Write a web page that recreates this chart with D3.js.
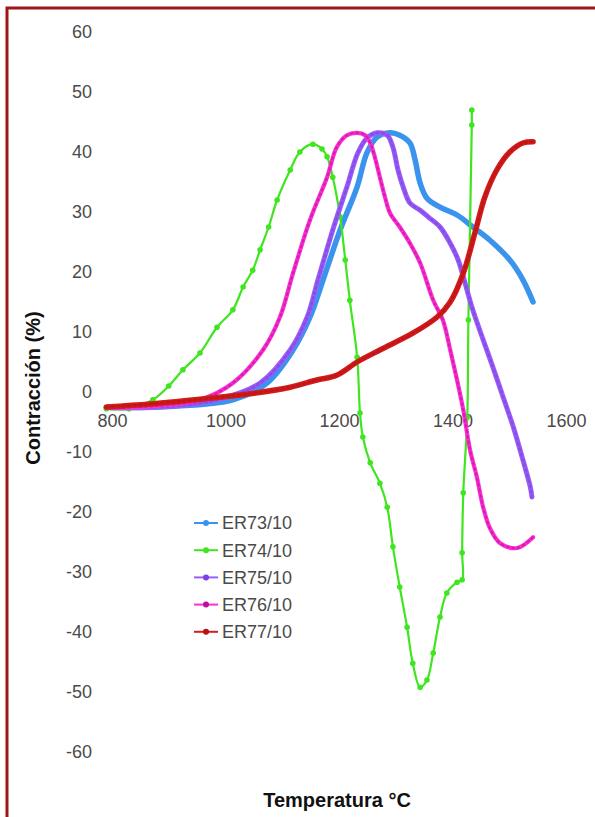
<!DOCTYPE html>
<html>
<head>
<meta charset="utf-8">
<script src="https://cdn.jsdelivr.net/npm/d3@7"></script>
<style>
  body { margin: 0; background: #fff; }
  svg { display: block; font-family: "Liberation Sans", Arial, sans-serif; }
</style>
</head>
<body>
<svg id="chart" width="595" height="817"></svg>
<script>
// series names, in legend order
const seriesNames = ["ER73/10", "ER74/10", "ER75/10", "ER76/10", "ER77/10"];

// [temperature °C, contraction %]
const er73 = [[790,-2.6],[900,-2.4],[1013,-1.3],[1073,1.5],[1119,7],[1149,12.5],[1172,18.7],[1202,27],[1232,34.2],[1249,39.8],[1267,42.5],[1290,43.2],[1307,42.8],[1325,41.5],[1334,38.7],[1343,34.8],[1355,32.3],[1378,30.8],[1408,29.5],[1436,27.5],[1466,25.3],[1501,22],[1524,18.7],[1542,15]];
const er74 = [[790,-2.8],[830,-2.8],[872,-1.3],[900,1],[925,3.7],[955,6.5],[985,10.8],[1013,13.7],[1031,17.5],[1048,20.3],[1061,23.7],[1076,27.5],[1091,32],[1114,37],[1131,40],[1154,41.3],[1170,40.5],[1179,39.2],[1189,35.8],[1202,29.2],[1211,22],[1219,15.3],[1232,5.8],[1237,-3.5],[1242,-7.5],[1255,-11.8],[1272,-15.2],[1285,-19.2],[1295,-25.8],[1307,-32.5],[1320,-39.2],[1330,-45.2],[1343,-49.2],[1355,-48],[1366,-43.5],[1378,-37.5],[1390,-33.5],[1408,-31.7],[1417,-31.3],[1417,-26.8],[1419,-16.8],[1426,-4.2],[1428,12],[1434,44.5],[1434,47]];
const er75 = [[790,-2.6],[900,-2.4],[985,-1.3],[1061,1.5],[1114,7],[1144,12.5],[1163,18.7],[1189,27],[1214,34.2],[1233,39.8],[1249,42.3],[1267,43.2],[1285,42.8],[1295,40.8],[1304,37],[1313,34.2],[1325,31.5],[1343,30.3],[1357,29.2],[1378,27.5],[1396,24.8],[1410,22],[1422,18.2],[1434,14.2],[1448,10.3],[1471,4.2],[1489,-0.8],[1507,-5.8],[1524,-11.3],[1537,-15.8],[1540,-17.5]];
const er76 = [[790,-2.6],[880,-2.3],[955,-1.3],[1013,1.5],[1066,7],[1096,12.5],[1119,19.8],[1149,28.7],[1179,35.8],[1196,40.8],[1214,42.8],[1232,43.2],[1246,42.8],[1255,41.5],[1263,39.2],[1272,35.8],[1281,32.5],[1290,29.8],[1307,27.5],[1325,24.8],[1343,21.5],[1366,15.3],[1383,12],[1396,7],[1408,2],[1419,-3],[1431,-9.7],[1443,-14.2],[1454,-19.2],[1466,-22.7],[1484,-25.2],[1514,-26],[1542,-24.2]];
const er77 = [[790,-2.5],[867,-2],[955,-1.2],[1043,-0.3],[1114,0.8],[1161,2],[1196,2.8],[1232,5],[1272,7],[1330,9.8],[1373,12.5],[1396,15],[1419,19.8],[1440,26.7],[1457,32.5],[1478,37],[1501,40],[1524,41.5],[1542,41.7]];

const xTicks = [800, 1000, 1200, 1400, 1600];
const yTicks = [-60, -50, -40, -30, -20, -10, 0, 10, 20, 30, 40, 50, 60];

const svg = d3.select("#chart");

// series styling
const series = [
    {name: seriesNames[0], data: er73, color: "#3a94ee", width: 5.5, dots: null, marker: false},
    {name: seriesNames[1], data: er74, color: "#3ee61e", width: 2.2, dots: null, marker: true},
    {name: seriesNames[2], data: er75, color: "#9a5ef6", width: 5, dots: "#7d3fe6", marker: false},
    {name: seriesNames[3], data: er76, color: "#ff2fd2", width: 4.2, dots: "#b8129e", marker: false},
    {name: seriesNames[4], data: er77, color: "#d41c1c", width: 5.5, dots: "#b51212", marker: false}
];

const x = d3.scaleLinear().domain([800, 1600]).range([112, 566]);
const y = d3.scaleLinear().domain([-60, 60]).range([752, 32]);

// frame (dark red border on top and left)
svg.append("path")
    .attr("d", "M7,817 L7,8 L595,8")
    .attr("fill", "none")
    .attr("stroke", "#9e1616")
    .attr("stroke-width", 3);

// y axis labels
svg.append("g")
    .attr("transform", "translate(92,0)")
    .call(d3.axisLeft(y).tickValues(yTicks).tickSize(0).tickPadding(0).tickFormat(d => String(d)))
    .call(g => g.select(".domain").remove())
    .selectAll("text")
    .attr("font-size", 18)
    .attr("font-family", "Liberation Sans, Arial, sans-serif")
    .attr("fill", "#4a4a4a");

// x axis labels (sitting just under the zero line)
svg.append("g")
    .attr("transform", `translate(0,${y(0)})`)
    .call(d3.axisBottom(x).tickValues(xTicks).tickSize(0).tickPadding(22).tickFormat(d => String(d)))
    .call(g => g.select(".domain").remove())
    .selectAll("text")
    .attr("font-size", 18)
    .attr("font-family", "Liberation Sans, Arial, sans-serif")
    .attr("fill", "#4a4a4a");

const line = d3.line()
    .x(d => x(d[0]))
    .y(d => y(d[1]))
    .curve(d3.curveCatmullRom.alpha(0.5));

const plot = svg.append("g").attr("id", "series");

series.forEach(s => {
    const g = plot.append("g");
    g.append("path")
        .datum(s.data)
        .attr("fill", "none")
        .attr("stroke", s.color)
        .attr("stroke-width", s.width)
        .attr("stroke-linejoin", "round")
        .attr("stroke-linecap", "round")
        .attr("d", line);
    if (s.dots) {
        // darker marker dots running along the line
        g.append("path")
            .datum(s.data)
            .attr("fill", "none")
            .attr("stroke", s.dots)
            .attr("stroke-width", s.width * 0.55)
            .attr("stroke-dasharray", "2,3.5")
            .attr("stroke-linecap", "round")
            .attr("opacity", 0.6)
            .attr("d", line);
    }
    if (s.marker) {
        g.selectAll("circle")
            .data(s.data)
            .join("circle")
            .attr("cx", d => x(d[0]))
            .attr("cy", d => y(d[1]))
            .attr("r", 2.8)
            .attr("fill", s.color);
    }
});

// legend
const legend = svg.append("g").attr("id", "legend");
series.forEach((s, i) => {
    const ly = 523 + i * 27.2;
    legend.append("line")
        .attr("x1", 194).attr("x2", 218)
        .attr("y1", ly).attr("y2", ly)
        .attr("stroke", s.color)
        .attr("stroke-width", 2);
    legend.append("circle")
        .attr("cx", 206).attr("cy", ly)
        .attr("r", 3)
        .attr("fill", s.dots || s.color);
    legend.append("text")
        .attr("x", 222)
        .attr("y", ly)
        .attr("dy", "0.35em")
        .attr("font-size", 18)
        .attr("fill", "#4a4a4a")
        .text(s.name);
});

// axis titles
svg.append("text")
    .attr("transform", `translate(40,${388}) rotate(-90)`)
    .attr("text-anchor", "middle")
    .attr("font-weight", "bold")
    .attr("font-size", 20)
    .attr("fill", "#111")
    .text("Contracción (%)");

svg.append("text")
    .attr("x", 337)
    .attr("y", 807)
    .attr("text-anchor", "middle")
    .attr("font-weight", "bold")
    .attr("font-size", 20)
    .attr("fill", "#111")
    .text("Temperatura °C");
</script>
</body>
</html>
